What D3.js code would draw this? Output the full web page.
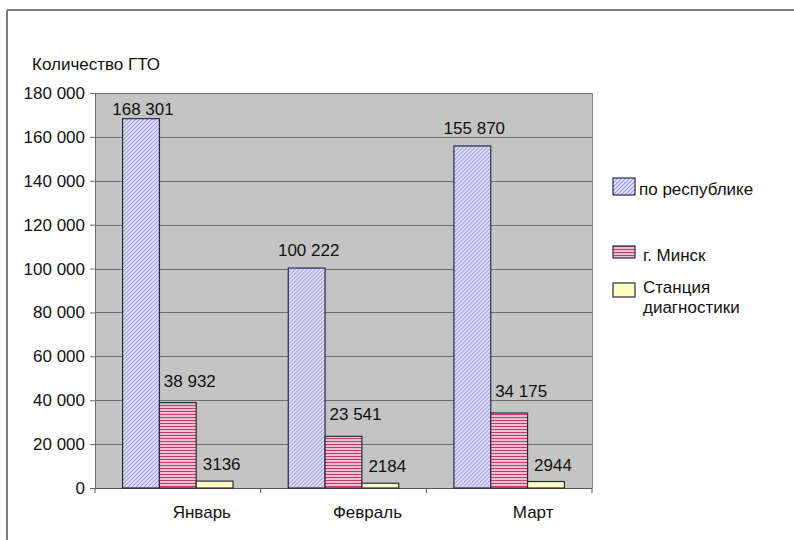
<!DOCTYPE html>
<html><head><meta charset="utf-8">
<script src="https://cdn.jsdelivr.net/npm/d3@7"></script>
<style>body{margin:0;background:#fff}svg{display:block}text{font-family:"Liberation Sans",Arial,sans-serif;fill:#111}</style>
</head><body>
<svg id="c" width="794" height="540"></svg>
<script>
const months = ["Январь", "Февраль", "Март"];
const seriesNames = ["по республике", "г. Минск", "Станция диагностики"];
const republic = [168301, 100222, 155870];
const minsk = [38932, 23541, 34175];
const station = [3136, 2184, 2944];
const yTicks = [0, 20000, 40000, 60000, 80000, 100000, 120000, 140000, 160000, 180000];
const yTitle = "Количество ГТО";

const FS = 17;
const svg = d3.select("#c");
const W = 794, H = 540;
const L = 95, R = 592, T = 93, B = 488;

// frame
svg.append("line").attr("x1",7).attr("x2",W).attr("y1",10).attr("y2",10).attr("stroke","#7a7a7a").attr("stroke-width",2);
svg.append("line").attr("x1",7).attr("x2",7).attr("y1",10).attr("y2",H).attr("stroke","#7a7a7a").attr("stroke-width",2);

const defs = svg.append("defs");
const p1 = defs.append("pattern").attr("id","pBlue").attr("patternUnits","userSpaceOnUse").attr("width",4).attr("height",4);
p1.append("rect").attr("width",4).attr("height",4).attr("fill","#ececff");
p1.append("path").attr("d","M-1,1 L1,-1 M0,4 L4,0 M3,5 L5,3").attr("stroke","#8f8ff2").attr("stroke-width",1.1);
const p2 = defs.append("pattern").attr("id","pPink").attr("patternUnits","userSpaceOnUse").attr("width",4).attr("height",3);
p2.append("rect").attr("width",4).attr("height",3).attr("fill","#f0bed0");
p2.append("rect").attr("y",0).attr("width",4).attr("height",1).attr("fill","#c03c6a");
const fills = ["url(#pBlue)", "url(#pPink)", "#ffffc4"];

const data = months.map((m,i)=>({m, vals:[republic[i], minsk[i], station[i]]}));

const x = d3.scaleBand().domain(months).range([L,R]).paddingInner(0).paddingOuter(0);
const bw = x.bandwidth();
const x1 = d3.scaleBand().domain(d3.range(seriesNames.length)).range([bw*0.75/4.5, bw*3.75/4.5]);
const y = d3.scaleLinear().domain([0,180000]).range([B,T]);

// plot background
svg.append("rect").attr("x",L).attr("y",T).attr("width",R-L).attr("height",B-T).attr("fill","#c4c4c4");
// gridlines
svg.append("g").selectAll("line").data(yTicks.filter(v=>v>0)).join("line")
  .attr("x1",L).attr("x2",R).attr("y1",d=>Math.round(y(d))+0.5).attr("y2",d=>Math.round(y(d))+0.5)
  .attr("stroke","#6e6e6e").attr("stroke-width",1);
svg.append("line").attr("x1",R+0.5).attr("x2",R+0.5).attr("y1",T).attr("y2",B).attr("stroke","#8a8a8a");

// y axis
const loc = d3.formatLocale({decimal:",", thousands:" ", grouping:[3], currency:["",""]});
const fmt = loc.format(",d");
const yAxis = d3.axisLeft(y).tickValues(yTicks).tickFormat(fmt).tickSize(5).tickPadding(5);
const gy = svg.append("g").attr("transform",`translate(${L},0)`).call(yAxis);
gy.select(".domain").attr("stroke","#6e6e6e");
gy.selectAll(".tick line").attr("stroke","#6e6e6e");
gy.selectAll(".tick text").attr("font-size",FS).attr("font-family","Liberation Sans, Arial, sans-serif").attr("fill","#111");

// x axis
const xAxis = d3.axisBottom(x).tickSize(0).tickFormat("");
const gx = svg.append("g").attr("transform",`translate(0,${B})`).call(xAxis);
gx.select(".domain").attr("stroke","#555").attr("d",`M${L},0.5H${R}`);
gx.selectAll(".tick").remove();
svg.append("g").selectAll("line").data([L, ...months.map(m=>x(m)+bw)]).join("line")
  .attr("x1",d=>d).attr("x2",d=>d).attr("y1",B).attr("y2",B+5).attr("stroke","#555");
svg.append("g").selectAll("text").data(months).join("text")
  .attr("x",d=>x(d)+bw/2+24).attr("y",518).attr("text-anchor","middle").attr("font-size",FS).text(d=>d);

// bars
const groups = svg.append("g").selectAll("g").data(data).join("g").attr("transform",d=>`translate(${x(d.m)},0)`);
groups.selectAll("rect").data(d=>d.vals.map((v,i)=>({v,i}))).join("rect")
  .attr("x",d=>x1(d.i)).attr("width",x1.bandwidth())
  .attr("y",d=>y(d.v)).attr("height",d=>B-y(d.v))
  .attr("fill",d=>fills[d.i]).attr("stroke","#2a2a40").attr("stroke-width",1.2);

// value labels
const labelDx = [2, 12, 7];
const labelDy = [18, 22, 17];
const fmtLabel = v => v >= 10000 ? fmt(v) : String(v);
groups.selectAll("text").data(d=>d.vals.map((v,i)=>({v,i}))).join("text")
  .attr("x",d=>x1(d.i)+x1.bandwidth()/2+labelDx[d.i])
  .attr("y",d=>Math.max(y(d.v)-labelDy[d.i], T+16)+6)
  .attr("text-anchor","middle").attr("font-size",FS).text(d=>fmtLabel(d.v));

// y title
svg.append("text").attr("x",32).attr("y",70).attr("font-size",FS).text(yTitle);

// legend
const leg = svg.append("g");
const legY = [178, 246, 283];
const legH = [17, 12, 14];
seriesNames.forEach((s,i)=>{
  leg.append("rect").attr("x",613).attr("y",legY[i]).attr("width",22).attr("height",legH[i])
    .attr("fill",fills[i]).attr("stroke","#2a2a40").attr("stroke-width",1.2);
});
leg.append("text").attr("x",639).attr("y",195).attr("font-size",FS).text(seriesNames[0]);
leg.append("text").attr("x",643).attr("y",261).attr("font-size",FS).text(seriesNames[1]);
const t3 = leg.append("text").attr("x",643).attr("y",293).attr("font-size",FS);
const parts = seriesNames[2].split(" ");
t3.append("tspan").attr("x",643).text(parts[0]);
t3.append("tspan").attr("x",643).attr("dy",20).text(parts[1]);
</script>
</body></html>
